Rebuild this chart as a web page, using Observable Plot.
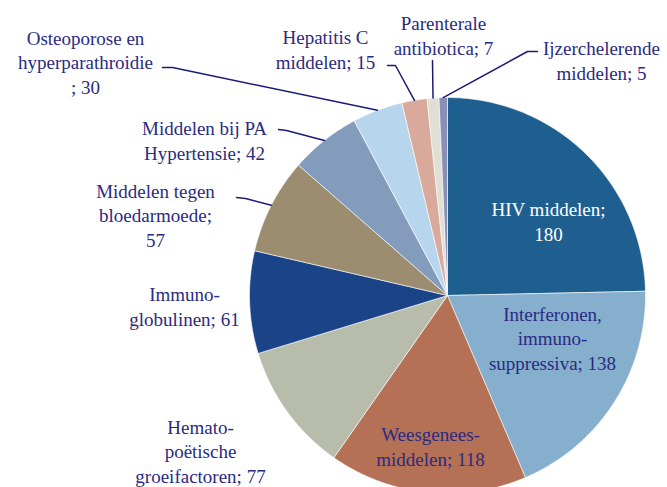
<!DOCTYPE html>
<html>
<head>
<meta charset="utf-8">
<script src="https://cdn.jsdelivr.net/npm/d3@7"></script>
<script src="https://cdn.jsdelivr.net/npm/@observablehq/plot@0.6"></script>
<style>
  html, body { margin: 0; padding: 0; background: white; overflow: hidden; }
  #chart svg { display: block; }
  #chart svg text, #chart svg tspan { font-family: "Liberation Serif", "Times New Roman", "DejaVu Serif", serif !important; }
</style>
</head>
<body>
<div id="chart"></div>
<script>
// ---- data ----
const categories = [
  "HIV middelen", "Interferonen, immuno-suppressiva", "Weesgenees-middelen",
  "Hemato-poëtische groeifactoren", "Immuno-globulinen", "Middelen tegen bloedarmoede",
  "Middelen bij PA Hypertensie", "Osteoporose en hyperparathroidie", "Hepatitis C middelen",
  "Parenterale antibiotica", "Ijzerchelerende middelen"
];
const values = [180, 138, 118, 77, 61, 57, 42, 30, 15, 7, 5];
const labelTexts = [
  "HIV middelen;\n180",
  "Interferonen,\nimmuno-\nsuppressiva; 138",
  "Weesgenees-\nmiddelen; 118",
  "Hemato-\npoëtische\ngroeifactoren; 77",
  "Immuno-\nglobulinen; 61",
  "Middelen tegen\nbloedarmoede;\n57",
  "Middelen bij PA\nHypertensie; 42",
  "Osteoporose en\nhyperparathroidie\n; 30",
  "Hepatitis C\nmiddelen; 15",
  "Parenterale\nantibiotica; 7",
  "Ijzerchelerende\nmiddelen; 5"
];
const colors = ["#1f5f90", "#86aecd", "#b47155", "#b8bcaa", "#1b4488", "#9c8d70",
                "#839cbc", "#b8d5ee", "#d9aa9b", "#dfe0d3", "#8890b8"];

// ---- layout (pixels) ----
const W = 667, H = 487, CX = 447, CY = 295, R = 198;
const TEXT = "#2a2b82";
// label block centers (px)
const labelPos = [[548,220],[552,337],[430,445],[200,450],[184,305],[155,214],
                  [204,139],[85,61],[325,48],[443,34],[601,59]];
const labelFill = ["white", TEXT, TEXT, TEXT, TEXT, TEXT, TEXT, TEXT, TEXT, TEXT, TEXT];
// leader line label-side points (px)
const leaderPts = [null, null, null, null, null,
  [[236,197],[245,198]], [[278,129],[286,130]], [[162,67],[172,67]],
  [[387,65],[395,65]], [[432,60]], [[537,51],[527,51]]];

const ux = px => (px - CX) / R;
const uy = py => (CY - py) / R;

// ---- pie geometry ----
const pie = d3.pie().sort(null).startAngle(0).endAngle(2 * Math.PI)(values);
const slices = pie.map((p, i) => {
  const pts = [{x: 0, y: 0}];
  const n = Math.max(2, Math.ceil((p.endAngle - p.startAngle) / 0.01));
  for (let k = 0; k <= n; k++) {
    const a = p.startAngle + (p.endAngle - p.startAngle) * k / n;
    pts.push({x: Math.sin(a), y: Math.cos(a)});
  }
  pts.push({x: 0, y: 0});
  return {name: categories[i], color: colors[i], pts, mid: (p.startAngle + p.endAngle) / 2};
});

const labels = labelTexts.map((t, i) => ({text: t, x: ux(labelPos[i][0]), y: uy(labelPos[i][1]), fill: labelFill[i]}));

const leaders = [];
slices.forEach((s, i) => {
  if (!leaderPts[i]) return;
  leaderPts[i].forEach(p => leaders.push({id: i, x: ux(p[0]), y: uy(p[1])}));
  leaders.push({id: i, x: Math.sin(s.mid), y: Math.cos(s.mid)});
});

const chart = Plot.plot({
  width: W, height: H,
  margin: 0,
  x: {domain: [-1, 1], range: [CX - R, CX + R], axis: null},
  y: {domain: [-1, 1], range: [CY + R, CY - R], axis: null},
  style: {background: "white"},
  marks: [
    ...slices.map(s => Plot.line(s.pts, {x: "x", y: "y", fill: s.color, stroke: "white", strokeWidth: 0.6, curve: "linear"})),
    Plot.line(leaders, {x: "x", y: "y", z: "id", stroke: "#1a1a7a", strokeWidth: 1.5}),
    Plot.text(labels, {x: "x", y: "y", text: "text", fill: "fill", fontSize: 19, lineHeight: 1.29, textAnchor: "middle", lineAnchor: "middle"})
  ]
});
document.getElementById("chart").appendChild(chart);
</script>
</body>
</html>
